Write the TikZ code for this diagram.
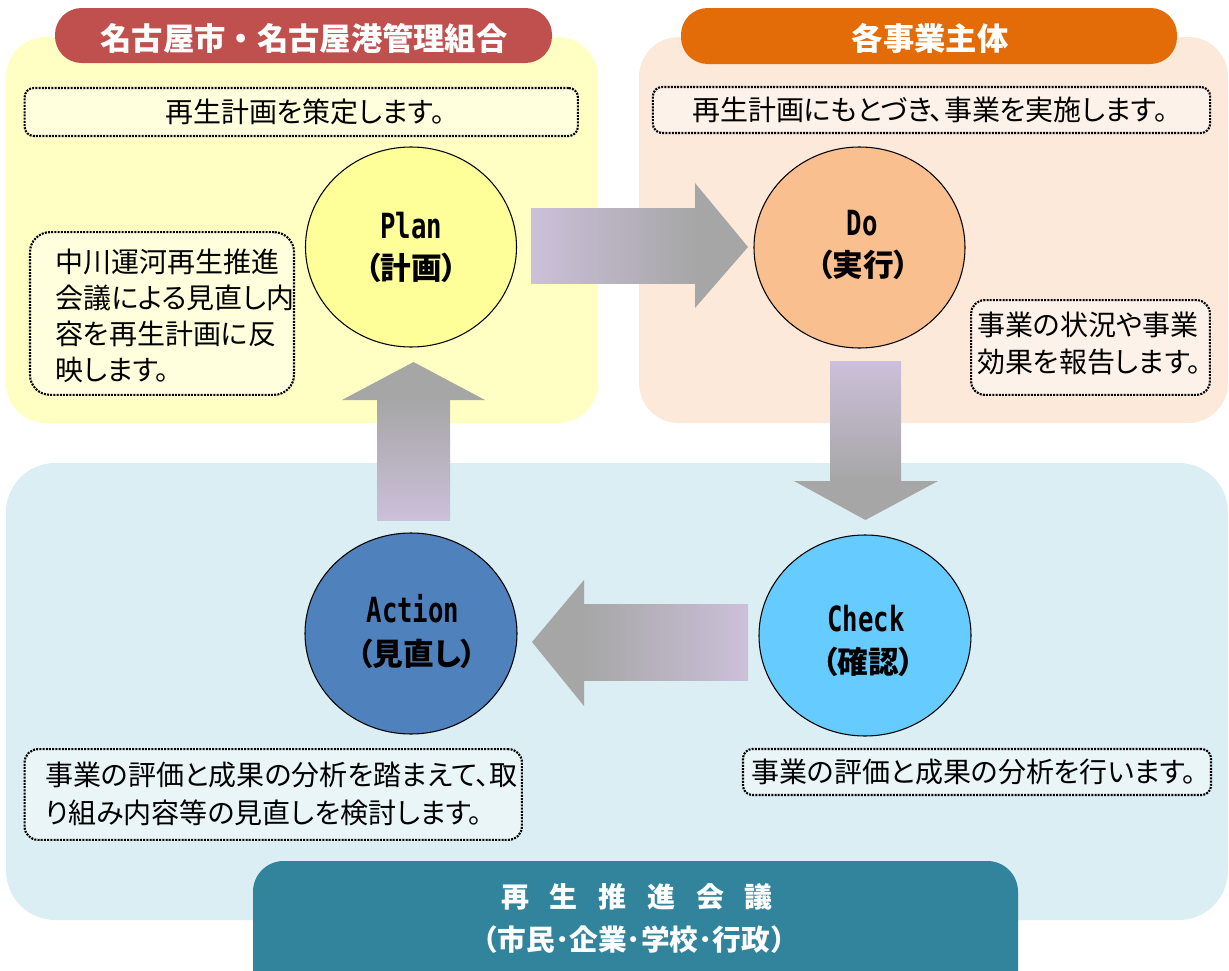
\documentclass[tikz,border=0pt]{standalone}
\usepackage{graphicx}
\usepackage{fontspec}
\usetikzlibrary{shapes.geometric}
\setmainfont{Noto Sans CJK JP}
\newfontfamily\jpp{Noto Sans CJK JP}[RawFeature=+palt]
\newfontfamily\latmono{DejaVu Sans Mono}
\definecolor{hdrred}{HTML}{C0504D}
\definecolor{hdrorange}{HTML}{E36C09}
\definecolor{hdrteal}{HTML}{31849B}
\definecolor{pyellow}{HTML}{FFFFC4}
\definecolor{porange}{HTML}{FDE9D9}
\definecolor{pblue}{HTML}{DAEEF3}
\definecolor{cplan}{HTML}{FFFF99}
\definecolor{cdo}{HTML}{FABF8F}
\definecolor{ccheck}{HTML}{66CCFF}
\definecolor{caction}{HTML}{4F81BD}
\definecolor{agray}{HTML}{A6A6A6}
\definecolor{alav}{HTML}{CCC0DA}
\newcommand{\pdcaname}[1]{\scalebox{0.74}[1]{\latmono\bfseries\fontsize{26pt}{30pt}\selectfont #1}}
\newcommand{\pdcajp}[1]{{\jpp\bfseries\fontsize{23pt}{26pt}\selectfont #1}}
\tikzset{
  hdrbox/.style={rounded corners=20pt, inner sep=0pt},
  hdrtext/.style={font=\bfseries\fontsize{23.5pt}{28pt}\selectfont, text=white, inner sep=0pt},
  dotbox/.style={draw=black, line width=1.6pt, dash pattern=on 1.5pt off 0.9pt,
     rounded corners=7pt, fill=white, fill opacity=0.45, inner sep=0pt},
  cyc/.style={ellipse, draw=black, line width=0.8pt, inner sep=0pt},
  body/.style={font=\jpp\fontsize{21pt}{27pt}\selectfont, inner sep=0pt, text=black},
  cyctext/.style={inner sep=0pt, text=black},
}
\begin{document}
\begin{tikzpicture}[x=0.75pt,y=-0.75pt]
\useasboundingbox (0,0) rectangle (1229,971);
\clip (0,0) rectangle (1229,971);
\fill[white] (0,0) rectangle (1229,971);
% panels
\fill[pyellow, rounded corners=30pt] (6,37) rectangle (598,423);
\fill[porange, rounded corners=30pt] (639,37) rectangle (1228,423);
\fill[pblue, rounded corners=37pt] (6,463) rectangle (1228,920);
% headers
\node[hdrbox, fill=hdrred, minimum width=372.75pt, minimum height=41.25pt] (h1) at (303.5,35.5) {};
\node[hdrtext] (h1t) at (304,38.5) {名古屋市・名古屋港管理組合};
\node[hdrbox, fill=hdrorange, minimum width=372pt, minimum height=42pt] (h2) at (929,36) {};
\node[hdrtext] (h2t) at (930,38.5) {各事業主体};
\fill[hdrteal, rounded corners=23pt] (253,861) rectangle (1018,1010);
\node[hdrtext, font=\bfseries\fontsize{21pt}{24pt}\selectfont] (h3a) at (637,897)
  {再\hspace{15.6pt}生\hspace{15.6pt}推\hspace{15.6pt}進\hspace{15.6pt}会\hspace{15.6pt}議};
\node[hdrtext, font=\bfseries\fontsize{21.5pt}{24pt}\selectfont] (h3b) at (634,940) {（市民･企業･学校･行政）};
% block arrows
\fill[left color=alav, right color=agray] (531,208) rectangle (695,283);
\fill[agray] (695,183) -- (748,247) -- (695,308) -- cycle;
\fill[top color=alav, bottom color=agray] (830,361) rectangle (901,481);
\fill[agray] (794,481) -- (865.5,520) -- (938,481) -- cycle;
\fill[left color=agray, right color=alav] (584,604) rectangle (748,680);
\fill[agray] (584,580) -- (532,642) -- (584,706) -- cycle;
\fill[top color=agray, bottom color=alav] (377,400) rectangle (450,520);
\fill[agray] (342,400) -- (413.5,362) -- (485,400) -- cycle;
% circles
\node[cyc, fill=cplan, minimum width=158.25pt, minimum height=150pt] (plan) at (411,247) {};
\node[cyctext] (plan1) at (411,226) {\pdcaname{Plan}};
\node[cyctext] (plan2) at (411,268) {\pdcajp{（計画）}};
\node[cyc, fill=cdo, minimum width=158.25pt, minimum height=150.75pt] (do) at (859.5,247.5) {};
\node[cyctext] (do1) at (862,223) {\pdcaname{Do}};
\node[cyctext] (do2) at (863,265) {\pdcajp{（実行）}};
\node[cyc, fill=ccheck, minimum width=159pt, minimum height=150.75pt] (check) at (865,635.5) {};
\node[cyctext] (check1) at (866,619) {\pdcaname{Check}};
\node[cyctext] (check2) at (868,662) {\pdcajp{（確認）}};
\node[cyc, fill=caction, minimum width=159pt, minimum height=150.75pt] (action) at (411,633.5) {};
\node[cyctext] (action1) at (413,609) {\pdcaname{Action}};
\node[cyctext] (action2) at (417,654) {\pdcajp{（見直し）}};
% dotted boxes
\node[dotbox, minimum width=415pt, minimum height=36pt] (b1) at (301.25,112) {};
\node[body] (b1t) at (305,112) {再生計画を策定します。};
\node[dotbox, rounded corners=15pt, minimum width=198pt, minimum height=122pt] (b2) at (162,313.5) {};
\node[body, anchor=west, align=left] (b2t) at (55,316)
  {中川運河再生推進\\会議による見直し内\\容を再生計画に反\\映します。};
\node[dotbox, minimum width=418pt, minimum height=34.5pt] (b3) at (931.5,110) {};
\node[body] (b3t) at (930,110) {再生計画にもとづき、事業を実施します。};
\node[dotbox, rounded corners=10pt, minimum width=179pt, minimum height=71pt] (b4) at (1090.5,347.5) {};
\node[body, anchor=west, align=left, font=\jpp\fontsize{21pt}{27.75pt}\selectfont] (b4t) at (977,343.5)
  {事業の状況や事業\\効果を報告します。};
\node[dotbox, rounded corners=10pt, minimum width=373pt, minimum height=68pt] (b5) at (273.25,794.5) {};
\node[body, anchor=west, align=left, font=\jpp\fontsize{21pt}{28.5pt}\selectfont] (b5t) at (45,794)
  {事業の評価と成果の分析を踏まえて、取\\り組み内容等の見直しを検討します。};
\node[dotbox, minimum width=351pt, minimum height=34.5pt] (b6) at (977,772) {};
\node[body] (b6t) at (974,772) {事業の評価と成果の分析を行います。};
\end{tikzpicture}
\end{document}
